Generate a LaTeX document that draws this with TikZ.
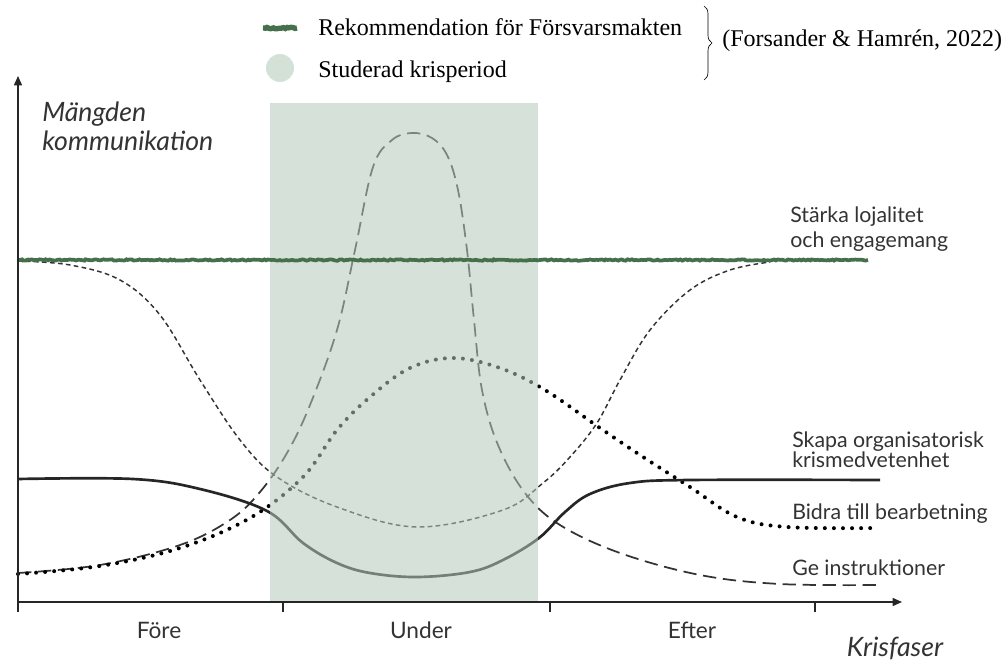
\documentclass[tikz,border=0pt]{standalone}
\usepackage{fontspec}
\setmainfont{Liberation Serif}
\newfontfamily\labelfont{Lato}
\usetikzlibrary{arrows.meta,decorations.pathreplacing,decorations.pathmorphing}

\definecolor{krisfill}{RGB}{180,202,186}
\definecolor{krislight}{RGB}{212,225,215}
\definecolor{rekgreen}{RGB}{70,112,76}

\tikzset{
  axis/.style={line width=1.1pt,black!85},
  rekline/.style={rekgreen,line width=2.8pt,
    decorate,decoration={random steps,segment length=1.5pt,amplitude=0.5pt}},
  medvetenhet/.style={line width=2pt,black!85},
  instruktioner/.style={line width=1.3pt,black!80,dash pattern=on 10pt off 5pt},
  lojalitet/.style={line width=1.1pt,black!80,dash pattern=on 3.5pt off 2.5pt},
  bearbetning/.style={line width=3pt,black,line cap=round,dash pattern=on 0pt off 6.8pt},
  curvelabel/.style={font=\labelfont\fontsize{16}{19}\selectfont,anchor=base west,
    inner sep=0,text=black!80},
  phaselabel/.style={font=\labelfont\fontsize{17}{20}\selectfont,anchor=base,
    inner sep=0,text=black!80},
  axislabel/.style={font=\labelfont\itshape\fontsize{20}{24}\selectfont,
    inner sep=0,text=black!80},
  legendtext/.style={font=\fontsize{18}{22}\selectfont,inner sep=0}
}

\begin{document}
\begin{tikzpicture}[x=0.75pt,y=-0.75pt]
  \useasboundingbox (0,0) rectangle (1008,660);

  % The curves, one for each kind of communication.
  \draw[lojalitet] plot[smooth,tension=0.6] coordinates {(18,261) (70,265) (120,280)
    (160,315) (200,380) (240,440) (277,477) (337,507) (417,527) (503,510)
    (543,483) (570,457) (597,423) (620,380) (650,330) (690,290) (730,270) (770,262)};

  \draw[instruktioner] plot[smooth,tension=0.6] coordinates {(18,573) (100,565)
    (180,545) (230,520) (260,492) (287,453) (310,405) (337,330) (355,250)
    (373,167) (392,140) (412,133) (432,138) (447,155) (458,190) (467,250)
    (474,320) (482,390) (498,445) (525,493) (560,525) (620,553) (700,575)
    (780,584) (880,585)};

  \draw[bearbetning] plot[smooth,tension=0.6] coordinates {(18,574) (100,566)
    (180,548) (250,518) (303,477) (337,430) (370,397) (410,368) (453,358)
    (500,368) (545,390) (600,428) (640,455) (690,487) (737,517) (787,527)
    (878,528)};

  \draw[medvetenhet] plot[smooth,tension=0.6] coordinates {(18,479) (133,479)
    (200,489) (267,511) (303,543) (337,563) (370,573) (417,577) (470,572)
    (503,560) (539,538) (565,512) (590,494) (630,483) (690,480) (880,480)};

  % The studied crisis period lies over the curves.
  \fill[krisfill,fill opacity=0.55] (270,103) rectangle (538,601);

  % The recommendation.
  \draw[rekline] (18,260) -- (868,260);

  % Axes and ticks.
  \draw[axis,-{Triangle[length=7pt,width=6pt]}] (18,612) -- (18,76);
  \draw[axis,-{Triangle[length=7pt,width=6pt]}] (18,602) -- (902,602);
  \foreach \t in {283,550,815}
    \draw[axis] (\t,602) -- (\t,612);

  % Axis labels.
  \node[axislabel,anchor=base west] (yl1) at (42,122) {Mängden};
  \node[axislabel,anchor=base west] (yl2) at (42,151) {kommunikation};
  \node[axislabel,anchor=base] (xl) at (895,656) {Krisfaser};

  \node[phaselabel] (fore) at (159,638) {Före};
  \node[phaselabel] (under) at (421,638) {Under};
  \node[phaselabel] (efter) at (692,638) {Efter};

  % Curve labels.
  \node[curvelabel] (loj1) at (790,223) {Stärka lojalitet};
  \node[curvelabel] (loj2) at (790,247) {och engagemang};
  \node[curvelabel] (med1) at (792,447) {Skapa organisatorisk};
  \node[curvelabel] (med2) at (792,467) {krismedvetenhet};
  \node[curvelabel] (bea) at (792,519) {Bidra till bearbetning};
  \node[curvelabel] (ins) at (792,575) {Ge instruktioner};

  % The legend.
  \draw[rekline,line width=4pt] (263,28) -- (297,28);
  \fill[krislight] (280,68) circle[radius=10.5pt];
  \node[legendtext,anchor=base west] (rek) at (318,36) {Rekommendation för Försvarsmakten};
  \node[legendtext,anchor=base west] (stud) at (318,78) {Studerad krisperiod};
  \draw[line width=0.5pt,decorate,decoration={brace,amplitude=6pt}]
    (704,6) -- (704,80);
  \node[legendtext,anchor=base west] (ref) at (722,47) {(Forsander \& Hamrén, 2022)};
\end{tikzpicture}
\end{document}
